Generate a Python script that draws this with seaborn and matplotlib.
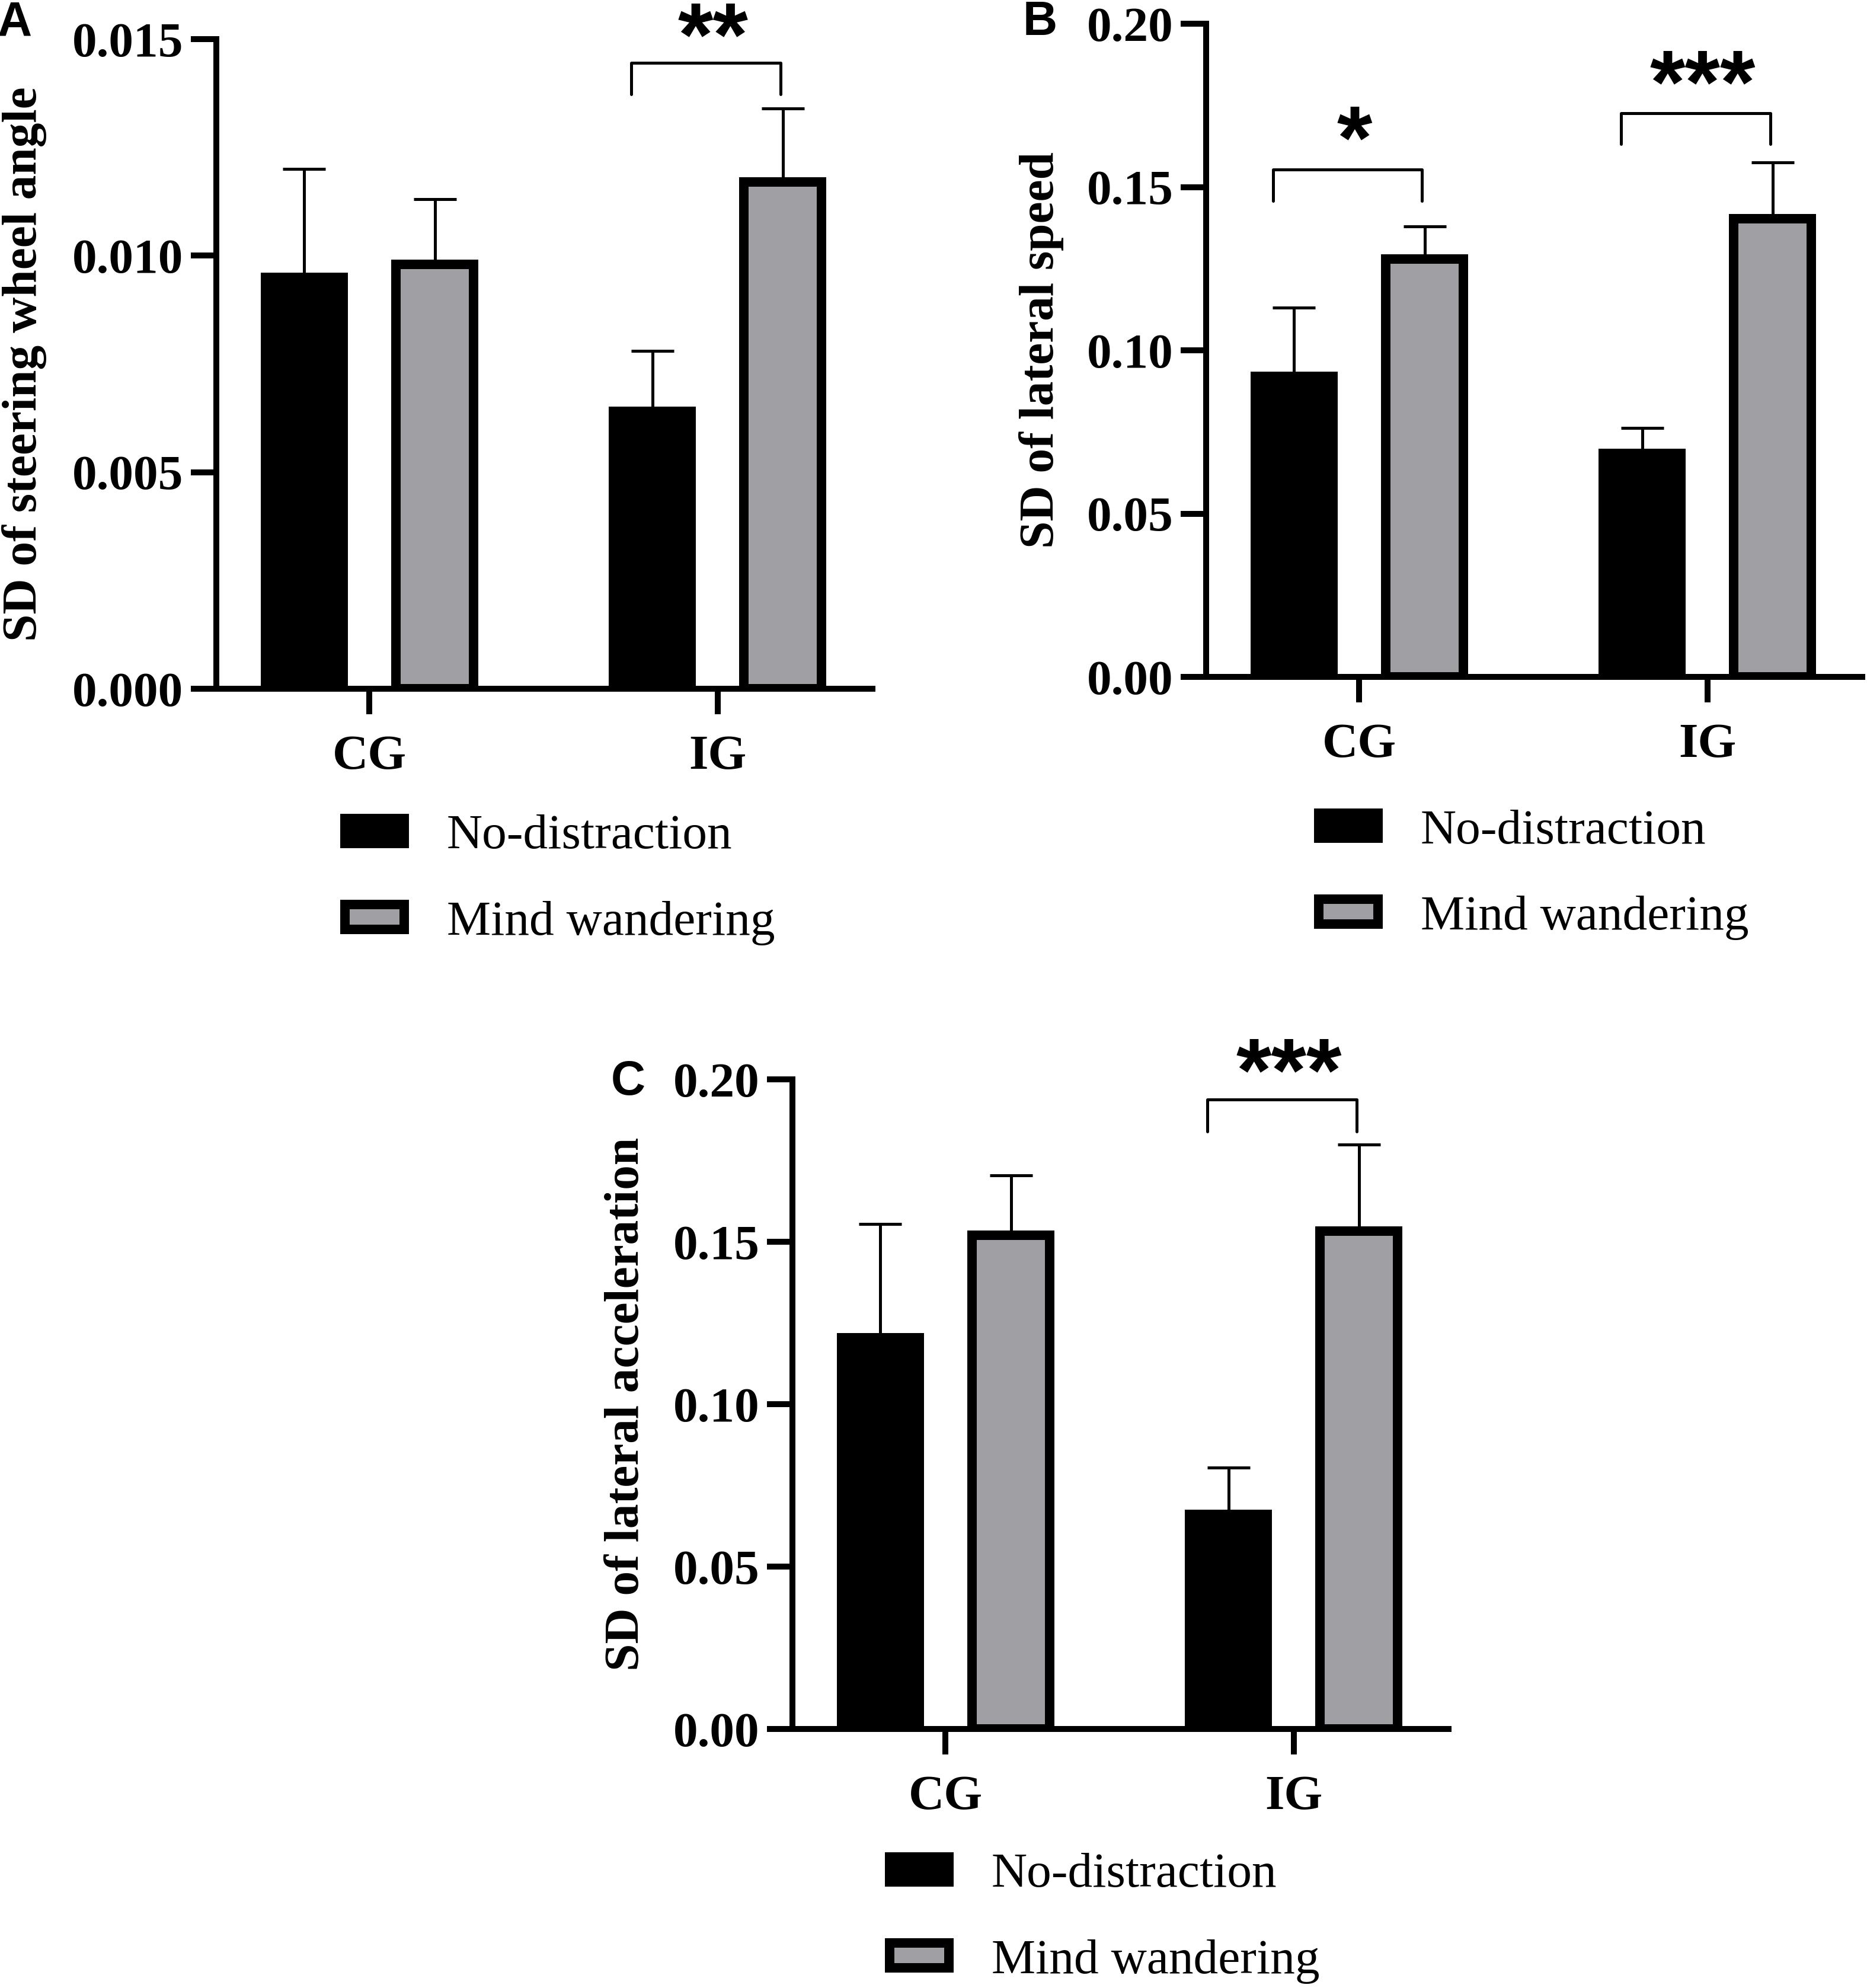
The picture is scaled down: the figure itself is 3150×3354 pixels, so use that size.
import numpy as np
import pandas as pd
import matplotlib
matplotlib.use('Agg')
import matplotlib.pyplot as plt
from matplotlib.patches import Patch
from matplotlib.ticker import FormatStrFormatter
import seaborn as sns

# Data
groups = ['CG', 'IG']
conditions = ['No-distraction', 'Mind wandering']

# A: SD of steering wheel angle
a_nd_mean = [0.0095, 0.0064]
a_nd_err = [0.0025, 0.0014]
a_mw_mean = [0.0098, 0.0117]
a_mw_err = [0.0015, 0.0017]
a_sig_groups = ['IG']
a_sig_labels = ['**']
a_bracket_top = [0.01445]
a_bracket_leg = [0.01373]
a_star_y = [0.01555]

# B: SD of lateral speed
b_nd_mean = [0.092, 0.0685]
b_nd_err = [0.021, 0.0078]
b_mw_mean = [0.128, 0.1403]
b_mw_err = [0.010, 0.0172]
b_sig_groups = ['CG', 'IG']
b_sig_labels = ['*', '***']
b_bracket_top = [0.1554, 0.1726]
b_bracket_leg = [0.1457, 0.1632]
b_star_y = [0.171, 0.188]

# C: SD of lateral acceleration
c_nd_mean = [0.1205, 0.066]
c_nd_err = [0.035, 0.0145]
c_mw_mean = [0.152, 0.1532]
c_mw_err = [0.0185, 0.0268]
c_sig_groups = ['IG']
c_sig_labels = ['***']
c_bracket_top = [0.1938]
c_bracket_leg = [0.184]
c_star_y = [0.2087]

# Style
sns.set_style('ticks', {'axes.edgecolor': 'black', 'xtick.color': 'black',
                        'ytick.color': 'black', 'text.color': 'black',
                        'axes.labelcolor': 'black'})
plt.rcParams['font.family'] = ['Liberation Serif', 'DejaVu Serif']
plt.rcParams['font.weight'] = 'bold'

GRAY = '#a09fa4'
EDGE_LW = 11.5
AXIS_LW = 7.2
ERR_LW = 3.6
FS = 60
LEG_FS = 60
STAR_FS = 110

W, H = 3150, 3354
fig = plt.figure(figsize=(W / 100, H / 100), dpi=100)


def draw_panel(ax, nd_mean, nd_err, mw_mean, mw_err, sig_groups, sig_labels,
               bracket_top, bracket_leg, star_y, ylim, yticks, fmt, ylabel,
               label_x, legend_anchor):
    df = pd.DataFrame({
        'group': groups * 2,
        'condition': [c for c in conditions for _ in groups],
        'value': nd_mean + mw_mean,
    })
    sns.barplot(data=df, x='group', y='value', hue='condition', order=groups,
                hue_order=conditions, palette=['black', GRAY], saturation=1,
                width=0.75, gap=0.405, edgecolor='black', linewidth=EDGE_LW,
                errorbar=None, legend=False, ax=ax)

    # upper-only error bars, drawn behind the bars
    centers = {}
    for cont, cond, err in zip(ax.containers, conditions, [nd_err, mw_err]):
        xs, hs, es = [], [], []
        for rect in cont:
            x = rect.get_x() + rect.get_width() / 2
            gi = int(round(x))
            centers[(cond, gi)] = x
            xs.append(x)
            hs.append(rect.get_height())
            es.append(err[gi])
        ax.errorbar(xs, hs, yerr=[np.zeros(len(es)), es], fmt='none',
                    ecolor='black', elinewidth=ERR_LW, capsize=26,
                    capthick=ERR_LW, zorder=0.5)

    # significance brackets
    for g, lab, top, leg, sy in zip(sig_groups, sig_labels, bracket_top,
                                    bracket_leg, star_y):
        gi = groups.index(g)
        xl = centers[(conditions[0], gi)] - 0.06
        xr = centers[(conditions[1], gi)] - 0.007
        ax.plot([xl, xl, xr, xr], [leg, top, top, leg], color='black',
                lw=ERR_LW, clip_on=False)
        ax.annotate(lab, xy=((xl + xr) / 2 + 0.02, sy),
                    xytext=(0, -0.552 * STAR_FS), textcoords='offset points',
                    ha='center', va='baseline', fontsize=STAR_FS,
                    fontfamily='Liberation Sans', fontweight='bold',
                    annotation_clip=False)

    ax.set_xlim(-0.44, 1.445)
    ax.set_ylim(*ylim)
    ax.set_yticks(yticks)
    ax.yaxis.set_major_formatter(FormatStrFormatter(fmt))
    ax.set_xlabel('')
    ax.set_ylabel(ylabel, fontsize=FS, fontweight='bold')
    ax.yaxis.set_label_coords(label_x, 0.5)
    sns.despine(ax=ax)
    for s in ['left', 'bottom']:
        ax.spines[s].set_linewidth(AXIS_LW)
    ax.tick_params(axis='both', length=31, width=AXIS_LW, labelsize=FS,
                   direction='out')
    ax.tick_params(axis='y', pad=9)
    ax.tick_params(axis='x', pad=25)
    for t in ax.get_xticklabels() + ax.get_yticklabels():
        t.set_fontweight('bold')

    handles = [Patch(facecolor='black', edgecolor='black', lw=EDGE_LW,
                     label=conditions[0]),
               Patch(facecolor=GRAY, edgecolor='black', lw=EDGE_LW,
                     label=conditions[1])]
    ax.legend(handles=handles, loc='upper left', bbox_to_anchor=legend_anchor,
              bbox_transform=fig.transFigure, frameon=False, borderpad=0,
              borderaxespad=0, handlelength=1.2, handleheight=0.4,
              handletextpad=0.86, labelspacing=0.84,
              prop={'family': 'Liberation Serif', 'weight': 'normal',
                    'size': LEG_FS})


ax_a = fig.add_axes([365 / W, 1 - 1162 / H, 1107 / W, 1096 / H])
ax_b = fig.add_axes([2035 / W, 1 - 1142 / H, 1107 / W, 1102 / H])
ax_c = fig.add_axes([1337 / W, 1 - 2917 / H, 1107 / W, 1096 / H])

draw_panel(ax_a, a_nd_mean, a_nd_err, a_mw_mean, a_mw_err, a_sig_groups,
           a_sig_labels, a_bracket_top, a_bracket_leg, a_star_y,
           (0, 0.015), [0, 0.005, 0.010, 0.015], '%.3f',
           'SD of steering wheel angle', -0.258, (582 / W, 1 - 1374 / H))
draw_panel(ax_b, b_nd_mean, b_nd_err, b_mw_mean, b_mw_err, b_sig_groups,
           b_sig_labels, b_bracket_top, b_bracket_leg, b_star_y,
           (0, 0.20), [0, 0.05, 0.10, 0.15, 0.20], '%.2f',
           'SD of lateral speed', -0.217, (2225 / W, 1 - 1365 / H))
draw_panel(ax_c, c_nd_mean, c_nd_err, c_mw_mean, c_mw_err, c_sig_groups,
           c_sig_labels, c_bracket_top, c_bracket_leg, c_star_y,
           (0, 0.20), [0, 0.05, 0.10, 0.15, 0.20], '%.2f',
           'SD of lateral acceleration', -0.219, (1501 / W, 1 - 3126 / H))

# panel letters
for letter, (px, py) in zip(['A', 'B', 'C'], [(25, 38), (1755, 38), (1060, 1826)]):
    fig.text(px / W, 1 - py / H, letter, ha='center', va='center',
             fontsize=58, fontfamily='Liberation Sans', fontweight='bold')

fig.savefig('out.png', dpi=100)
